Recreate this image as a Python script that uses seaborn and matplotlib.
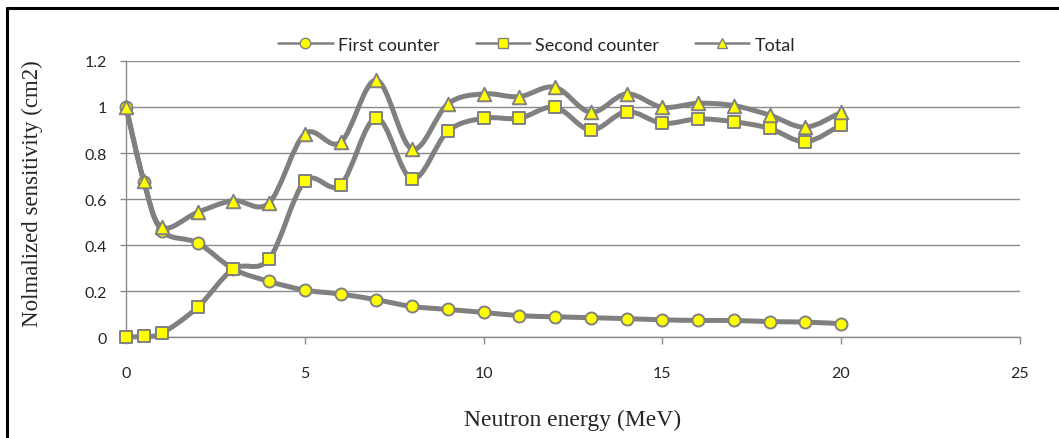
import numpy as np
import pandas as pd
import seaborn as sns
import matplotlib.pyplot as plt
from matplotlib.path import Path
from matplotlib.patches import PathPatch
from matplotlib.lines import Line2D

# Neutron energy (MeV)
energy = [0, 0.5, 1, 2, 3, 4, 5, 6, 7, 8, 9, 10, 11, 12, 13, 14, 15, 16, 17, 18, 19, 20]

first_counter = [1.0, 0.675, 0.462, 0.409, 0.296, 0.242, 0.204, 0.187, 0.162, 0.133, 0.120,
                 0.107, 0.093, 0.088, 0.084, 0.080, 0.075, 0.072, 0.072, 0.067, 0.065, 0.058]
second_counter = [0.0, 0.003, 0.016, 0.129, 0.296, 0.339, 0.677, 0.661, 0.952, 0.687, 0.894,
                  0.951, 0.951, 0.999, 0.900, 0.980, 0.929, 0.948, 0.936, 0.907, 0.849, 0.922]
total = [1.0, 0.677, 0.477, 0.542, 0.593, 0.583, 0.883, 0.846, 1.117, 0.817, 1.013,
         1.057, 1.045, 1.086, 0.977, 1.057, 0.999, 1.016, 1.006, 0.965, 0.912, 0.977]

series_names = ['First counter', 'Second counter', 'Total']
series_markers = ['o', 's', '^']
series_sizes = [75, 85, 95]

df = pd.DataFrame({'energy': energy, 'First counter': first_counter,
                   'Second counter': second_counter, 'Total': total})

LINE_GREY = '#808080'
YELLOW = '#FFFF00'


# Excel style smoothed line: cubic bezier through each point
def smooth_path(x, y):
    pts = np.column_stack([x, y])
    n = len(pts)
    verts = [pts[0]]
    codes = [Path.MOVETO]
    for i in range(n - 1):
        p0 = pts[i - 1] if i > 0 else pts[i]
        p1 = pts[i]
        p2 = pts[i + 1]
        p3 = pts[i + 2] if i + 2 < n else pts[i + 1]
        c1 = p1 + (p2 - p0) / 6.0
        c2 = p2 - (p3 - p1) / 6.0
        verts += [c1, c2, p2]
        codes += [Path.CURVE4] * 3
    return Path(verts, codes)


sns.set_style('white')
plt.rcParams['font.family'] = ['Lato', 'DejaVu Sans']

fig = plt.figure(figsize=(10.59, 4.39), dpi=100)
ax = fig.add_axes([0.119, 0.23, 0.844, 0.6288])

for k, name in enumerate(series_names):
    patch = PathPatch(smooth_path(df['energy'], df[name]), facecolor='none',
                      edgecolor=LINE_GREY, lw=3.6, zorder=3 + 2 * k,
                      capstyle='round', joinstyle='round', clip_on=False)
    ax.add_patch(patch)
    sns.scatterplot(data=df, x='energy', y=name, marker=series_markers[k],
                    s=series_sizes[k], color=YELLOW, edgecolor=LINE_GREY,
                    linewidth=1.4, zorder=4 + 2 * k, clip_on=False, ax=ax)

ax.set_xlim(0, 25)
ax.set_ylim(0, 1.2)
ax.set_xticks([0, 5, 10, 15, 20, 25])
ax.set_yticks([0, 0.2, 0.4, 0.6, 0.8, 1.0, 1.2])
ax.set_xticklabels(['0', '5', '10', '15', '20', '25'])
ax.set_yticklabels(['0', '0.2', '0.4', '0.6', '0.8', '1', '1.2'])
ax.yaxis.grid(True, color='#8a8a8a', lw=1.0)
ax.set_axisbelow(True)
for side in ['top', 'right']:
    ax.spines[side].set_visible(False)
for side in ['left', 'bottom']:
    ax.spines[side].set_color('#8a8a8a')
    ax.spines[side].set_linewidth(1.0)
ax.tick_params(axis='x', bottom=True, length=5, width=1, color='#8a8a8a',
               labelsize=11.5, pad=16)
ax.tick_params(axis='y', left=True, length=4, width=1, color='#8a8a8a',
               labelsize=11.5, pad=10)

ax.set_xlabel('Neutron energy (MeV)', family='Liberation Serif', fontsize=17)
ax.set_ylabel('Nolmalized sensitivity (cm2)', family='Liberation Serif', fontsize=16.5)
ax.xaxis.set_label_coords(0.5, -0.297)
ax.xaxis.label.set_va('center')
ax.yaxis.set_label_coords(-0.105, 0.522)
ax.yaxis.label.set_va('center')

handles = [Line2D([0], [0], color=LINE_GREY, lw=1.8, marker=m, markersize=ms,
                  markerfacecolor=YELLOW, markeredgecolor=LINE_GREY, markeredgewidth=1)
           for m, ms in zip(series_markers, [7.5, 7.5, 6.5])]
fig.legend(handles, series_names, loc='center', bbox_to_anchor=(0.507, 0.896),
           ncol=3, frameon=False, fontsize=13, handlelength=3.0, columnspacing=2.0,
           handletextpad=0.3)

# outer chart border (top and left edges visible)
fig.add_artist(Line2D([7 / 1059, 7 / 1059], [0, 1 - 9 / 439], color='black', lw=2.2,
                      transform=fig.transFigure))
fig.add_artist(Line2D([7 / 1059, 1], [1 - 9 / 439, 1 - 9 / 439], color='black', lw=2.2,
                      transform=fig.transFigure))

fig.savefig('out.png', dpi=100)
